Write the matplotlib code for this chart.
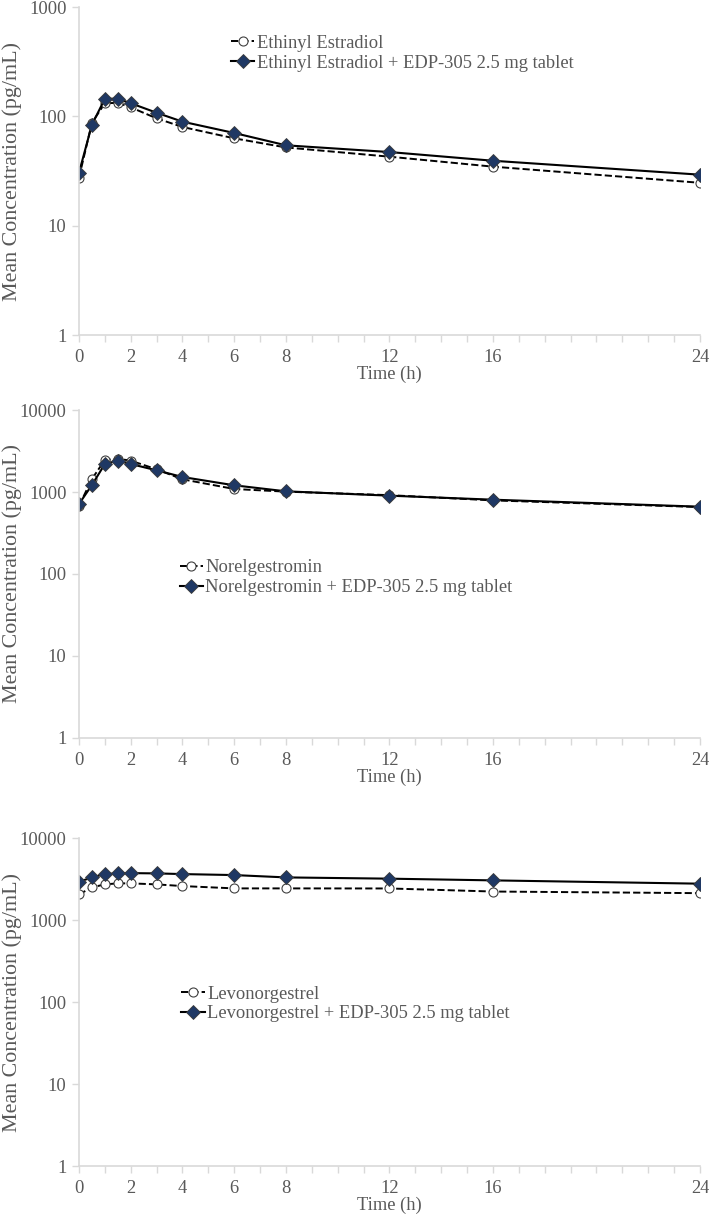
import matplotlib
matplotlib.use('Agg')
import matplotlib.pyplot as plt

# sampling times (h)
time_h = [0, 0.5, 1, 1.5, 2, 3, 4, 6, 8, 12, 16, 24]

# Ethinyl Estradiol (pg/mL)
ee_alone = [27.5, 87.5, 132, 133, 121, 96, 80, 63, 52, 42.8, 34.7, 24.7]
ee_edp = [30.5, 84, 145, 145, 132, 108, 89.5, 70.5, 54.4, 47.2, 39.3, 29.3]

# Norelgestromin (pg/mL)
ngmn_alone = [675, 1442, 2455, 2546, 2410, 1892, 1429, 1088, 1010, 915, 790, 655]
ngmn_edp = [714, 1217, 2195, 2410, 2195, 1838, 1524, 1207, 1019, 902, 806, 662]

# Levonorgestrel (pg/mL)
lng_alone = [2056, 2505, 2725, 2805, 2805, 2725, 2600, 2435, 2435, 2430, 2230, 2130]
lng_edp = [2930, 3315, 3640, 3710, 3740, 3710, 3640, 3540, 3315, 3200, 3050, 2780]

names = ['Ethinyl Estradiol', 'Norelgestromin', 'Levonorgestrel']
xtick_labels = {0: '0', 2: '2', 4: '4', 6: '6', 8: '8', 12: '12', 16: '16', 24: '24'}

plt.rcParams['font.family'] = ['Liberation Serif', 'DejaVu Serif']
txt = '#595959'
axc = '#d9d9d9'
navy = '#1f3864'

fig = plt.figure(figsize=(7.09, 12.21), dpi=100)
boxes = [[0.1114, 0.7256, 0.8759, 0.2686],
         [0.1114, 0.3956, 0.8759, 0.2686],
         [0.1114, 0.0450, 0.8759, 0.2686]]
ylims = [(1, 1000), (1, 10000), (1, 10000)]
legend_pos = [(0.245, 0.915), (0.162, 0.545), (0.165, 0.55)]
series = [(ee_alone, ee_edp), (ngmn_alone, ngmn_edp), (lng_alone, lng_edp)]

for i in range(3):
    ax = fig.add_axes(boxes[i])
    alone, edp = series[i]
    ax.plot(time_h, alone, color='black', linestyle='--', linewidth=1.4,
            marker='o', markersize=6.5, markerfacecolor='white',
            markeredgecolor='#404040', markeredgewidth=0.8, label=names[i])
    ax.plot(time_h, edp, color='black', linestyle='-', linewidth=1.5,
            marker='D', markersize=7.5, markerfacecolor=navy,
            markeredgecolor='#3a3a3a', markeredgewidth=0.6,
            label=names[i] + ' + EDP-305 2.5 mg tablet')
    ax.set_yscale('log')
    ax.set_ylim(*ylims[i])
    ax.set_xlim(0, 24)
    ax.minorticks_off()
    ax.set_yticks([10 ** k for k in range(0, 5) if 10 ** k <= ylims[i][1]])
    ax.set_yticklabels([str(10 ** k) for k in range(0, 5) if 10 ** k <= ylims[i][1]])
    ax.set_xticks(range(0, 25))
    ax.set_xticklabels([xtick_labels.get(h, '') for h in range(0, 25)])
    for s in ['top', 'right']:
        ax.spines[s].set_visible(False)
    for s in ['left', 'bottom']:
        ax.spines[s].set_color(axc)
        ax.spines[s].set_linewidth(1.2)
    ax.tick_params(axis='both', colors=axc, labelcolor=txt, labelsize=13.3,
                   length=5, width=1.0, direction='out')
    ax.tick_params(axis='y', pad=4)
    ax.tick_params(axis='x', pad=5)
    ax.set_xlabel('Time (h)', fontsize=13.3, color=txt, labelpad=0)
    ax.set_ylabel('Mean Concentration (pg/mL)', fontsize=15.8, color=txt)
    ax.yaxis.set_label_coords(-0.092, 0.5)
    leg = ax.legend(loc='upper left', bbox_to_anchor=legend_pos[i], frameon=False,
                    fontsize=13.3, handlelength=1.25, handletextpad=0.15,
                    borderpad=0, borderaxespad=0, labelspacing=0.15)
    for t in leg.get_texts():
        t.set_color(txt)

fig.savefig('out.png', dpi=100)
